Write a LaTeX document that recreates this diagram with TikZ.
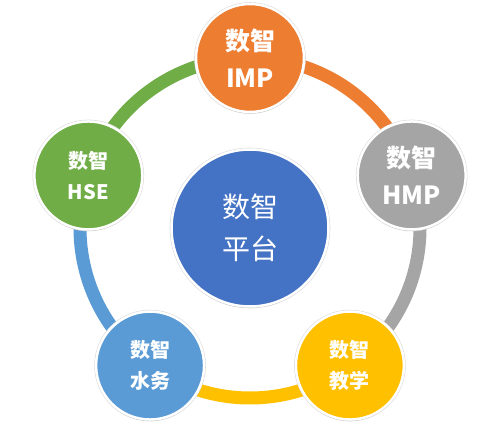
\documentclass[tikz,border=0pt]{standalone}
\usepackage{fontspec}
\newfontfamily\cjk{Noto Sans CJK SC}
\usetikzlibrary{shadows,backgrounds}
\definecolor{imporange}{HTML}{ED7D31}
\definecolor{hmpgray}{HTML}{A5A5A5}
\definecolor{jxyellow}{HTML}{FFC000}
\definecolor{swblue}{HTML}{5B9BD5}
\definecolor{hsegreen}{HTML}{70AD47}
\definecolor{hubblue}{HTML}{4472C4}
\begin{document}
\begin{tikzpicture}[x=1pt, y=1pt, line join=round, line cap=butt,
    bubble/.style={circle, draw=white, line width=2.5pt, minimum size=108pt,
        inner sep=0pt, text=white, align=center,
        preaction={draw=black!15, line width=3.6pt},
        drop shadow={shadow xshift=0pt, shadow yshift=-1.5pt, opacity=0.3}},
    big/.style={font={\cjk\bfseries\fontsize{25}{37}\selectfont}},
    small/.style={font={\cjk\bfseries\fontsize{20}{31}\selectfont}},
    band/.style={line width=13pt}]
    \def\R{170}
    \useasboundingbox (0,0) rectangle (500,431);
    \coordinate (o) at (250,203);
    \node[bubble, minimum size=157pt, fill=hubblue,
        font={\cjk\fontsize{28}{42}\selectfont}] (hub) at (o) {数智\\平台};
    \node[bubble, big, fill=imporange] (imp) at ([shift={(90:\R)}]o) {数智\\IMP};
    \node[bubble, big, fill=hmpgray] (hmp) at ([shift={(18:\R)}]o) {数智\\HMP};
    \node[bubble, small, fill=jxyellow] (jx) at ([shift={(-54:\R)}]o) {数智\\教学};
    \node[bubble, small, fill=swblue] (sw) at ([shift={(-126:\R)}]o) {数智\\水务};
    \node[bubble, small, fill=hsegreen] (hse) at ([shift={(162:\R)}]o) {数智\\HSE};
    % ring
    \begin{scope}[on background layer]
        \draw[band, imporange] (imp.center) arc[start angle=90, end angle=18, radius=\R];
        \draw[band, hmpgray] (hmp.center) arc[start angle=18, end angle=-54, radius=\R];
        \draw[band, jxyellow] (jx.center) arc[start angle=-54, end angle=-126, radius=\R];
        \draw[band, swblue] (sw.center) arc[start angle=-126, end angle=-198, radius=\R];
        \draw[band, hsegreen] (hse.center) arc[start angle=162, end angle=90, radius=\R];
    \end{scope}
\end{tikzpicture}
\end{document}
